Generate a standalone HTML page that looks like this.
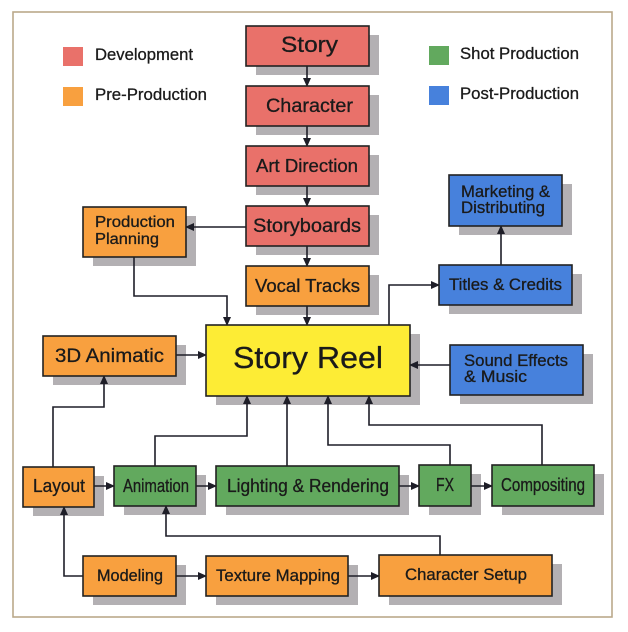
<!DOCTYPE html>
<html><head><meta charset="utf-8"><style>
html,body{margin:0;padding:0;background:#fff;}
svg{display:block;}
text{font-family:"Liberation Sans",Arial,sans-serif;fill:#1a1a1a;stroke:#1a1a1a;stroke-width:0.3;}
</style></head><body>
<svg width="628" height="632" viewBox="0 0 628 632" xmlns="http://www.w3.org/2000/svg">
<defs>
<marker id="a" markerWidth="9" markerHeight="8" refX="8" refY="4" orient="auto" markerUnits="userSpaceOnUse">
<path d="M0,0 L9,4 L0,8 Z" fill="#1e1e28"/>
</marker>
</defs>
<rect x="0" y="0" width="628" height="632" fill="#fff"/>
<rect x="13" y="12" width="599" height="605" fill="#fff" stroke="#bba98a" stroke-width="1.6"/>

<!-- legend -->
<rect x="63" y="47" width="20" height="19" fill="#e9716a"/>
<text x="95" y="60" font-size="17" textLength="98" lengthAdjust="spacingAndGlyphs">Development</text>
<rect x="63" y="87" width="20" height="19" fill="#f8a03f"/>
<text x="95" y="100" font-size="17" textLength="112" lengthAdjust="spacingAndGlyphs">Pre-Production</text>
<rect x="429" y="46" width="20" height="19" fill="#62a95e"/>
<text x="460" y="59" font-size="17" textLength="119" lengthAdjust="spacingAndGlyphs">Shot Production</text>
<rect x="429" y="86" width="20" height="19" fill="#4781dc"/>
<text x="460" y="99" font-size="17" textLength="119" lengthAdjust="spacingAndGlyphs">Post-Production</text>

<!-- shadows -->
<g fill="#b3b0b3">
<rect x="256" y="35" width="123" height="40"/>
<rect x="256" y="95" width="123" height="40"/>
<rect x="256" y="155" width="123" height="40"/>
<rect x="256" y="215" width="123" height="40"/>
<rect x="256" y="275" width="123" height="40"/>
<rect x="93" y="216" width="103" height="50"/>
<rect x="459" y="184" width="113" height="51"/>
<rect x="449" y="274" width="133" height="40"/>
<rect x="216" y="334" width="204" height="71"/>
<rect x="460" y="354" width="133" height="50"/>
<rect x="53" y="345" width="133" height="40"/>
<rect x="33" y="476" width="71" height="40"/>
<rect x="124" y="475" width="82" height="40"/>
<rect x="226" y="475" width="183" height="40"/>
<rect x="429" y="474" width="52" height="41"/>
<rect x="502" y="474" width="102" height="41"/>
<rect x="93" y="565" width="93" height="40"/>
<rect x="216" y="565" width="142" height="40"/>
<rect x="389" y="564" width="173" height="41"/>
</g>

<!-- connectors -->
<g stroke="#1e1e28" stroke-width="1.6" fill="none" marker-end="url(#a)">
<path d="M307,66 V86"/>
<path d="M307,126 V146"/>
<path d="M307,186 V206"/>
<path d="M307,246 V266"/>
<path d="M307,306 V325"/>
<path d="M246,227 H186"/>
<path d="M134,257 V296 H227 V325"/>
<path d="M389,325 V285 H439"/>
<path d="M501,265 V226"/>
<path d="M450,365 H410"/>
<path d="M176,355 H206"/>
<path d="M53,467 V407 H104 V376"/>
<path d="M94,486 H114"/>
<path d="M196,486 H216"/>
<path d="M399,486 H419"/>
<path d="M471,486 H492"/>
<path d="M155,466 V436 H247 V396"/>
<path d="M287,466 V396"/>
<path d="M450,465 V445 H328 V396"/>
<path d="M542,465 V425 H369 V396"/>
<path d="M83,576 H64 V507"/>
<path d="M176,576 H206"/>
<path d="M348,576 H379"/>
<path d="M440,555 V536 H166 V506"/>
</g>

<!-- boxes -->
<g stroke="#222" stroke-width="1.6">
<rect x="246" y="26" width="123" height="40" fill="#e9716a"/>
<rect x="246" y="86" width="123" height="40" fill="#e9716a"/>
<rect x="246" y="146" width="123" height="40" fill="#e9716a"/>
<rect x="246" y="206" width="123" height="40" fill="#e9716a"/>
<rect x="246" y="266" width="123" height="40" fill="#f8a03f"/>
<rect x="83" y="207" width="103" height="50" fill="#f8a03f"/>
<rect x="449" y="175" width="113" height="51" fill="#4781dc"/>
<rect x="439" y="265" width="133" height="40" fill="#4781dc"/>
<rect x="206" y="325" width="204" height="71" fill="#fdec35"/>
<rect x="450" y="345" width="133" height="50" fill="#4781dc"/>
<rect x="43" y="336" width="133" height="40" fill="#f8a03f"/>
<rect x="23" y="467" width="71" height="40" fill="#f8a03f"/>
<rect x="114" y="466" width="82" height="40" fill="#62a95e"/>
<rect x="216" y="466" width="183" height="40" fill="#62a95e"/>
<rect x="419" y="465" width="52" height="41" fill="#62a95e"/>
<rect x="492" y="465" width="102" height="41" fill="#62a95e"/>
<rect x="83" y="556" width="93" height="40" fill="#f8a03f"/>
<rect x="206" y="556" width="142" height="40" fill="#f8a03f"/>
<rect x="379" y="555" width="173" height="41" fill="#f8a03f"/>
</g>

<!-- labels -->
<text x="281" y="52" font-size="22" textLength="57" lengthAdjust="spacingAndGlyphs">Story</text>
<text x="266" y="112" font-size="19" textLength="87" lengthAdjust="spacingAndGlyphs">Character</text>
<text x="256" y="172" font-size="18" textLength="102" lengthAdjust="spacingAndGlyphs">Art Direction</text>
<text x="253" y="232" font-size="19" textLength="108" lengthAdjust="spacingAndGlyphs">Storyboards</text>
<text x="255" y="292" font-size="18" textLength="105" lengthAdjust="spacingAndGlyphs">Vocal Tracks</text>

<text x="95" y="227" font-size="16" textLength="80" lengthAdjust="spacingAndGlyphs">Production</text>
<text x="95" y="244" font-size="16" textLength="64" lengthAdjust="spacingAndGlyphs">Planning</text>

<text x="461" y="197" font-size="16.5" textLength="89" lengthAdjust="spacingAndGlyphs">Marketing &amp;</text>
<text x="461" y="213" font-size="16.5" textLength="84" lengthAdjust="spacingAndGlyphs">Distributing</text>

<text x="449" y="290" font-size="16.5" textLength="113" lengthAdjust="spacingAndGlyphs">Titles &amp; Credits</text>

<text x="233" y="368" font-size="31" textLength="150" lengthAdjust="spacingAndGlyphs">Story Reel</text>

<text x="464" y="366" font-size="16.5" textLength="104" lengthAdjust="spacingAndGlyphs">Sound Effects</text>
<text x="464" y="382" font-size="16.5" textLength="63" lengthAdjust="spacingAndGlyphs">&amp; Music</text>

<text x="55" y="362" font-size="19" textLength="109" lengthAdjust="spacingAndGlyphs">3D Animatic</text>

<text x="33" y="492" font-size="18" textLength="52" lengthAdjust="spacingAndGlyphs">Layout</text>
<text x="123" y="492" font-size="18" textLength="66" lengthAdjust="spacingAndGlyphs">Animation</text>
<text x="227" y="492" font-size="18" textLength="162" lengthAdjust="spacingAndGlyphs">Lighting &amp; Rendering</text>
<text x="436" y="491" font-size="18" textLength="18" lengthAdjust="spacingAndGlyphs">FX</text>
<text x="501" y="491" font-size="18" textLength="84" lengthAdjust="spacingAndGlyphs">Compositing</text>

<text x="97" y="581" font-size="17" textLength="66" lengthAdjust="spacingAndGlyphs">Modeling</text>
<text x="216" y="581" font-size="17" textLength="124" lengthAdjust="spacingAndGlyphs">Texture Mapping</text>
<text x="405" y="580" font-size="17" textLength="122" lengthAdjust="spacingAndGlyphs">Character Setup</text>
</svg>
</body></html>
